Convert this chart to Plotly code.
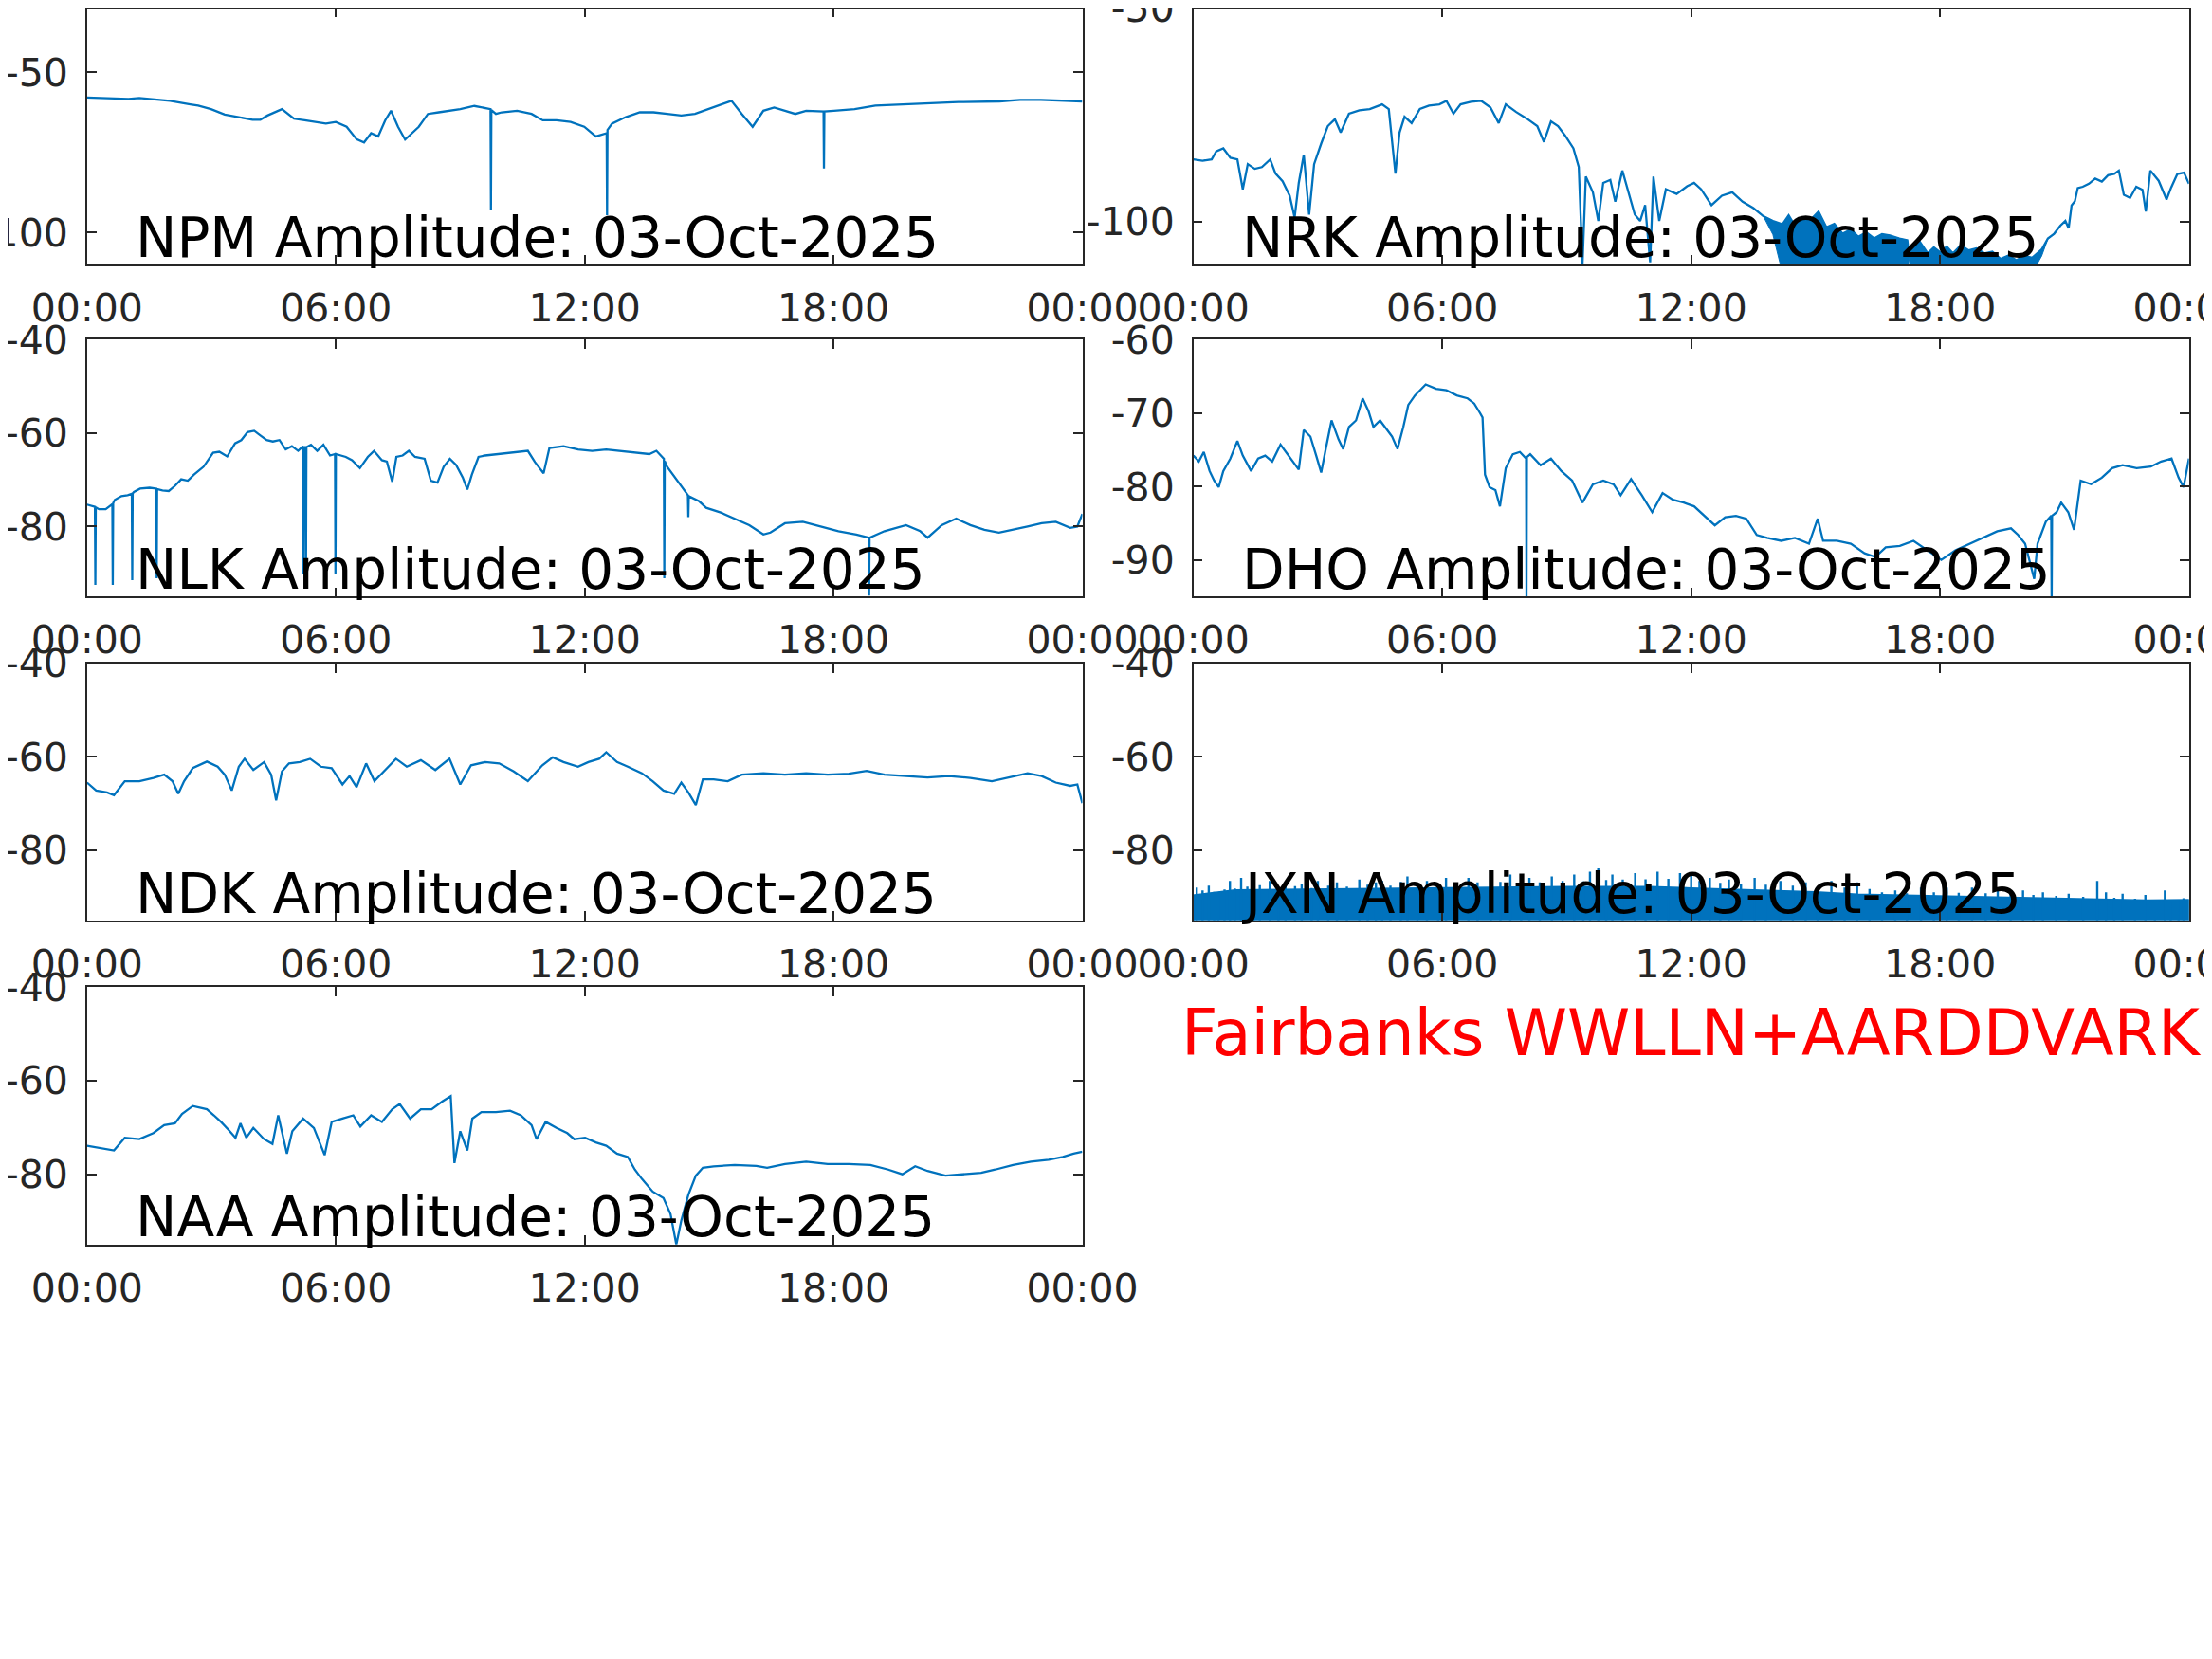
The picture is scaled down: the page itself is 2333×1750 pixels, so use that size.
import pandas as pd
import plotly.graph_objects as go

DAY = pd.Timestamp("2025-10-03")
BLUE = "#0072BD"
INK = "#262626"
FONT = "DejaVu Sans"

# ---- data: hours after 00:00 UT, amplitude in dB ----
npm_hours = [0.00, 0.48, 1.00, 1.26, 2.00, 2.49, 2.68, 2.99, 3.32, 3.66,
             3.99, 4.18, 4.35, 4.70, 4.99, 5.25, 5.51, 5.76, 6.00, 6.26,
             6.50, 6.68, 6.85, 7.02, 7.19, 7.33, 7.50, 7.67, 8.00, 8.22,
             8.48, 9.00, 9.34, 9.69, 9.73, 9.74, 9.75, 9.86, 10.00, 10.37,
             10.72, 10.99, 11.32, 11.66, 11.99, 12.27, 12.49, 12.53, 12.54, 12.55,
             12.66, 12.99, 13.33, 13.66, 13.99, 14.33, 14.66, 14.98, 15.28, 15.54,
             15.79, 16.05, 16.31, 16.57, 16.83, 17.08, 17.34, 17.76, 17.77, 17.78,
             18.01, 18.51, 19.01, 20.01, 21.01, 22.00, 22.50, 23.00, 23.50, 24.00]
npm_db = [-57.9, -58.1, -58.3, -58.0, -58.9, -60.0, -60.4, -61.5, -63.2, -64.0,
          -64.8, -64.8, -63.5, -61.5, -64.5, -65.0, -65.5, -66.0, -65.5, -67.0,
          -70.9, -71.9, -69.0, -70.0, -65.0, -62.0, -67.0, -71.0, -67.0, -63.0,
          -62.5, -61.5, -60.5, -61.5, -61.5, -92.9, -61.8, -63.0, -62.5, -62.0,
          -63.0, -65.0, -65.0, -65.5, -67.0, -70.0, -69.0, -69.0, -94.6, -68.0,
          -66.0, -64.0, -62.5, -62.5, -63.0, -63.5, -63.0, -61.5, -60.0, -58.9,
          -63.0, -67.0, -62.0, -61.0, -62.0, -63.0, -62.0, -62.2, -80.0, -62.2,
          -62.0, -61.5, -60.4, -59.9, -59.3, -59.1, -58.6, -58.6, -58.9, -59.1]

nrk_hours = [0.00, 0.22, 0.44, 0.55, 0.72, 0.89, 1.06, 1.19, 1.31, 1.48,
             1.65, 1.85, 1.98, 2.15, 2.32, 2.44, 2.54, 2.66, 2.79, 2.91,
             3.08, 3.24, 3.41, 3.55, 3.75, 4.00, 4.25, 4.55, 4.71, 4.79,
             4.87, 4.97, 5.09, 5.26, 5.46, 5.68, 5.93, 6.10, 6.27, 6.44,
             6.69, 6.94, 7.16, 7.36, 7.53, 7.78, 8.03, 8.29, 8.45, 8.62,
             8.79, 8.96, 9.16, 9.29, 9.38, 9.46, 9.63, 9.76, 9.88, 10.05,
             10.17, 10.34, 10.47, 10.64, 10.77, 10.89, 11.01, 11.09, 11.23, 11.39,
             11.65, 11.90, 12.07, 12.24, 12.49, 12.74, 12.99, 13.24, 13.50]
nrk_db = [-85.4, -85.7, -85.4, -83.5, -82.8, -85.0, -85.4, -92.4, -86.5, -87.6,
          -87.2, -85.4, -88.7, -90.5, -93.9, -99.0, -90.9, -84.3, -98.3, -86.5,
          -81.7, -77.6, -76.0, -79.1, -74.7, -73.9, -73.6, -72.5, -73.6, -80.6,
          -88.7, -79.1, -75.4, -76.9, -73.6, -72.8, -72.5, -71.7, -74.7, -72.5,
          -71.9, -71.7, -73.2, -76.9, -72.5, -74.3, -75.8, -77.6, -81.3, -76.5,
          -77.6, -79.8, -82.8, -87.2, -110.0, -89.4, -93.1, -99.8, -90.9, -90.2,
          -95.3, -88.0, -92.4, -98.3, -99.8, -96.1, -109.5, -89.4, -99.8, -92.4,
          -93.5, -91.7, -90.9, -92.4, -96.1, -93.9, -93.1, -95.3, -96.8]
# dense noise band of NRK in the afternoon: upper edge and lower edge
nrk_band_hours = [13.74, 13.97, 14.20, 14.35, 14.50, 14.70, 14.88, 15.07, 15.26, 15.45,
                  15.65, 15.85, 16.03, 16.22, 16.41, 16.60, 16.79, 17.02, 17.21, 17.26,
                  17.32, 17.50, 17.70, 17.85, 18.01, 18.16, 18.31, 18.50, 18.69, 18.88,
                  19.07, 19.26, 19.46, 19.65, 19.84, 20.03, 20.22, 20.45, 20.60, 20.75]
nrk_band_top = [-98.7, -99.8, -100.6, -98.5, -100.9, -99.0, -99.5, -97.6, -101.3, -100.5,
                -102.8, -101.8, -103.5, -102.5, -103.9, -102.9, -103.2, -103.9, -104.3, -108.4,
                -106.7, -104.5, -107.4, -106.0, -107.2, -105.8, -107.4, -105.5, -106.7, -106.2,
                -107.4, -107.0, -108.7, -107.9, -109.0, -108.0, -108.4, -106.5, -103.9, -102.8]
nrk_band_floor = [-98.7, -103.0, -112.0, -112.0, -112.0, -112.0, -112.0, -112.0, -112.0, -112.0,
                  -112.0, -112.0, -112.0, -112.0, -112.0, -112.0, -112.0, -112.0, -112.0, -108.4,
                  -112.0, -112.0, -112.0, -112.0, -112.0, -112.0, -112.0, -112.0, -112.0, -112.0,
                  -112.0, -112.0, -112.0, -112.0, -112.0, -112.0, -112.0, -108.0, -104.0, -102.8]
nrk_late_hours = [20.90, 21.02, 21.10, 21.17, 21.25, 21.32, 21.44, 21.59, 21.74, 21.90,
                  22.05, 22.20, 22.31, 22.43, 22.58, 22.73, 22.88, 22.96, 23.07, 23.27,
                  23.46, 23.57, 23.72, 23.88, 24.00]
nrk_late_db = [-100.9, -99.8, -101.5, -96.2, -95.2, -92.1, -91.8, -91.1, -89.9, -90.6,
               -89.1, -88.8, -88.0, -93.7, -94.4, -91.8, -92.5, -97.6, -88.0, -90.4,
               -94.8, -92.0, -88.8, -88.5, -91.1]

nlk_hours = [0.00, 0.14, 0.19, 0.20, 0.21, 0.29, 0.45, 0.60, 0.61, 0.62,
             0.63, 0.67, 0.83, 0.98, 1.08, 1.09, 1.10, 1.13, 1.28, 1.51,
             1.67, 1.68, 1.69, 1.82, 1.97, 2.12, 2.27, 2.43, 2.58, 2.81,
             2.96, 3.04, 3.19, 3.38, 3.57, 3.72, 3.87, 4.03, 4.18, 4.33,
             4.48, 4.64, 4.79, 4.94, 5.09, 5.21, 5.22, 5.23, 5.27, 5.28,
             5.29, 5.40, 5.55, 5.70, 5.86, 5.98, 5.99, 6.00, 6.24, 6.39,
             6.58, 6.77, 6.92, 7.11, 7.23, 7.36, 7.46, 7.61, 7.76, 7.91,
             8.14, 8.29, 8.45, 8.60, 8.75, 8.90, 9.06, 9.17, 9.28, 9.44,
             9.60, 9.94, 10.29, 10.63, 10.80, 11.01, 11.15, 11.49, 11.84, 12.18,
             12.52, 12.87, 13.21, 13.56, 13.73, 13.91, 13.92, 13.93, 13.99, 14.24,
             14.49, 14.50, 14.51, 14.76, 14.93, 15.28, 15.62, 15.97, 16.31, 16.48,
             16.83, 17.26, 17.69, 18.12, 18.55, 18.85, 18.86, 18.87, 19.23, 19.75,
             20.09, 20.27, 20.61, 20.96, 21.30, 21.64, 21.99, 22.33, 22.68, 23.02,
             23.36, 23.71, 23.88, 24.00]
nlk_db = [-75.3, -75.6, -75.8, -92.5, -75.9, -76.3, -76.3, -75.3, -75.2, -92.5,
          -75.0, -74.3, -73.5, -73.3, -73.0, -91.5, -72.9, -72.6, -71.9, -71.7,
          -71.9, -91.1, -72.0, -72.3, -72.4, -71.3, -69.9, -70.2, -68.9, -67.2,
          -65.2, -64.2, -64.0, -65.0, -62.2, -61.5, -59.8, -59.5, -60.5, -61.5,
          -61.8, -61.5, -63.5, -62.8, -63.8, -62.8, -90.1, -63.0, -63.0, -90.4,
          -63.0, -62.5, -63.8, -62.5, -64.8, -64.5, -90.1, -64.5, -65.1, -65.8,
          -67.5, -65.1, -63.8, -65.8, -66.1, -70.4, -65.1, -64.8, -63.8, -65.1,
          -65.5, -70.2, -70.6, -67.2, -65.5, -66.8, -69.5, -72.1, -68.9, -65.1,
          -64.8, -64.5, -64.2, -63.8, -66.2, -68.6, -63.2, -62.8, -63.5, -63.8,
          -63.5, -63.8, -64.2, -64.5, -63.8, -65.5, -91.1, -66.0, -67.2, -70.2,
          -73.3, -78.0, -73.5, -74.6, -76.0, -77.0, -78.3, -79.7, -81.7, -81.3,
          -79.3, -79.0, -80.0, -81.0, -81.7, -82.4, -94.8, -82.4, -81.0, -79.7,
          -81.0, -82.4, -79.7, -78.3, -79.7, -80.7, -81.3, -80.7, -80.0, -79.3,
          -79.0, -80.3, -80.0, -77.3]

dho_hours = [0.00, 0.13, 0.25, 0.39, 0.50, 0.61, 0.72, 0.89, 1.06, 1.19,
             1.39, 1.56, 1.73, 1.90, 2.10, 2.29, 2.40, 2.54, 2.66, 2.82,
             2.96, 3.08, 3.19, 3.33, 3.50, 3.61, 3.75, 3.92, 4.08, 4.22,
             4.34, 4.50, 4.67, 4.79, 4.92, 5.06, 5.18, 5.34, 5.60, 5.85,
             6.10, 6.35, 6.61, 6.77, 6.91, 6.97, 7.03, 7.14, 7.28, 7.39,
             7.53, 7.70, 7.87, 8.02, 8.03, 8.04, 8.12, 8.37, 8.62, 8.87,
             9.13, 9.38, 9.63, 9.88, 10.13, 10.30, 10.55, 10.81, 11.06, 11.31,
             11.56, 11.82, 12.07, 12.32, 12.57, 12.82, 13.08, 13.33, 13.58, 13.83,
             14.17, 14.50, 14.84, 15.05, 15.18, 15.51, 15.85, 16.18, 16.44, 16.69,
             17.03, 17.36, 17.70, 18.03, 18.37, 18.71, 19.04, 19.38, 19.71, 19.88,
             20.05, 20.22, 20.27, 20.35, 20.55, 20.68, 20.69, 20.70, 20.81, 20.92,
             21.09, 21.23, 21.39, 21.64, 21.90, 22.15, 22.40, 22.74, 23.08, 23.33,
             23.58, 23.75, 23.87, 24.00]
dho_db = [-75.8, -76.6, -75.3, -77.9, -79.2, -80.1, -77.9, -76.2, -73.8, -75.8,
          -77.9, -76.2, -75.8, -76.6, -74.3, -75.8, -76.6, -77.7, -72.3, -73.2,
          -75.8, -78.1, -74.9, -71.0, -73.6, -74.9, -71.9, -71.0, -68.0, -69.7,
          -71.9, -71.0, -72.3, -73.2, -74.9, -71.9, -68.9, -67.6, -66.1, -66.7,
          -66.9, -67.6, -68.0, -68.7, -70.0, -70.6, -78.4, -80.1, -80.5, -82.7,
          -77.5, -75.6, -75.3, -76.2, -95.5, -76.0, -75.6, -77.1, -76.2, -77.9,
          -79.2, -82.2, -79.7, -79.2, -79.7, -81.2, -79.0, -81.2, -83.5, -80.9,
          -81.8, -82.2, -82.7, -84.0, -85.3, -84.2, -84.0, -84.4, -86.6, -87.0,
          -87.4, -87.0, -87.8, -84.4, -87.4, -87.4, -87.8, -89.1, -89.6, -88.3,
          -88.1, -87.4, -88.7, -90.0, -88.7, -87.8, -87.0, -86.1, -85.7, -86.6,
          -87.8, -91.3, -92.6, -87.8, -84.8, -84.0, -95.5, -84.0, -83.5, -82.2,
          -83.5, -85.9, -79.2, -79.7, -78.8, -77.5, -77.1, -77.5, -77.3, -76.6,
          -76.2, -78.8, -80.1, -76.2]

ndk_hours = [0.00, 0.22, 0.48, 0.65, 0.91, 1.26, 1.60, 1.86, 2.06, 2.20,
             2.34, 2.55, 2.89, 3.15, 3.32, 3.49, 3.66, 3.80, 4.01, 4.27,
             4.44, 4.56, 4.70, 4.87, 5.13, 5.38, 5.64, 5.90, 6.16, 6.33,
             6.50, 6.73, 6.93, 7.19, 7.45, 7.71, 8.05, 8.40, 8.74, 9.00,
             9.26, 9.60, 9.94, 10.29, 10.63, 10.98, 11.23, 11.49, 11.84, 12.09,
             12.35, 12.52, 12.78, 13.04, 13.38, 13.64, 13.90, 14.16, 14.33, 14.50,
             14.68, 14.85, 15.11, 15.45, 15.79, 16.31, 16.83, 17.34, 17.86, 18.37,
             18.80, 19.23, 19.75, 20.27, 20.78, 21.30, 21.82, 22.16, 22.68, 23.02,
             23.36, 23.71, 23.88, 24.00]
ndk_db = [-65.5, -67.2, -67.6, -68.2, -65.2, -65.2, -64.5, -63.8, -65.2, -67.9,
          -65.2, -62.4, -61.0, -62.1, -63.8, -67.2, -62.1, -60.4, -62.8, -61.1,
          -63.8, -69.3, -63.1, -61.4, -61.1, -60.4, -62.1, -62.4, -65.9, -64.1,
          -66.5, -61.4, -65.2, -62.8, -60.4, -62.1, -60.7, -62.8, -60.4, -65.9,
          -61.8, -61.1, -61.4, -63.1, -65.2, -61.8, -60.1, -61.1, -62.1, -61.1,
          -60.4, -59.0, -61.1, -62.1, -63.5, -65.2, -67.2, -67.9, -65.5, -67.6,
          -70.3, -64.8, -64.8, -65.2, -63.8, -63.5, -63.8, -63.5, -63.8, -63.6,
          -63.0, -63.8, -64.1, -64.4, -64.1, -64.5, -65.2, -64.5, -63.5, -64.1,
          -65.5, -66.2, -65.9, -69.9]

# JXN is a dense noise band: solid level (hourly) plus the spike tops above it
jxn_base_hours = [0, 1, 2, 3, 4, 5, 6, 7, 8, 9, 10, 11, 12,
                  13, 14, 15, 16, 17, 18, 19, 20, 21, 22, 23, 24]
jxn_base_db = [-89.6, -88.5, -88.4, -88.3, -88.2, -88.1, -88.0, -87.9, -87.9, -87.8,
               -87.8, -87.8, -88.1, -88.4, -88.6, -88.9, -89.4, -89.6, -89.8, -89.9,
               -90.1, -90.3, -90.5, -90.7, -90.6]
jxn_spike_hours = [0.08, 0.22, 0.37, 0.50, 0.60, 0.75, 0.88, 1.00, 1.15, 1.30,
                   1.45, 1.60, 1.84, 2.05, 2.22, 2.45, 2.61, 2.85, 3.00, 3.25,
                   3.46, 3.70, 4.00, 4.20, 4.40, 4.55, 4.75, 5.00, 5.16, 5.40,
                   5.63, 5.90, 6.09, 6.35, 6.63, 6.85, 7.17, 7.40, 7.64, 7.90,
                   8.10, 8.35, 8.64, 8.90, 9.18, 9.40, 9.56, 9.76, 9.95, 10.10,
                   10.35, 10.65, 10.90, 11.19, 11.45, 11.73, 12.00, 12.20, 12.45, 12.70,
                   12.91, 13.20, 13.53, 13.80, 14.15, 14.45, 14.76, 15.05, 15.38, 15.70,
                   16.00, 16.30, 16.60, 16.92, 17.20, 17.54, 17.85, 18.16, 18.45, 18.77,
                   19.10, 19.39, 19.70, 20.00, 20.25, 20.48, 20.80, 21.10, 21.45, 21.79,
                   22.00, 22.20, 22.40, 22.70, 22.95, 23.18, 23.42, 23.56, 23.75, 23.87]
jxn_spike_db = [-88.0, -88.6, -87.6, -88.9, -89.3, -88.4, -86.6, -88.2, -85.9, -87.8,
                -86.9, -87.5, -86.6, -88.0, -86.9, -87.7, -87.3, -88.1, -86.6, -87.6,
                -86.9, -87.8, -86.3, -87.4, -86.9, -86.6, -87.6, -86.8, -85.6, -87.2,
                -86.6, -87.4, -85.9, -87.0, -85.9, -86.9, -85.9, -86.8, -85.2, -86.5,
                -85.9, -86.9, -85.6, -86.6, -85.2, -86.7, -84.6, -83.9, -86.4, -85.2,
                -86.3, -84.9, -86.2, -84.6, -86.1, -84.9, -84.9, -86.6, -85.9, -87.0,
                -86.3, -87.2, -85.9, -87.4, -86.6, -87.6, -86.9, -87.8, -86.6, -88.0,
                -86.9, -88.3, -89.0, -88.6, -89.2, -88.0, -89.0, -88.0, -89.1, -88.0,
                -89.2, -88.0, -89.4, -88.6, -89.6, -89.0, -89.8, -89.3, -90.0, -86.6,
                -89.0, -90.2, -89.3, -90.4, -89.6, -90.8, -88.6, -91.0, -90.6, -90.3]

naa_hours = [0.00, 0.31, 0.65, 0.91, 1.26, 1.60, 1.86, 2.12, 2.29, 2.55,
             2.89, 3.06, 3.23, 3.41, 3.58, 3.70, 3.84, 4.01, 4.27, 4.47,
             4.61, 4.82, 4.95, 5.21, 5.47, 5.73, 5.90, 6.16, 6.42, 6.59,
             6.85, 7.11, 7.36, 7.54, 7.79, 8.05, 8.31, 8.57, 8.77, 8.86,
             9.00, 9.17, 9.29, 9.51, 9.86, 10.20, 10.46, 10.72, 10.84, 11.06,
             11.32, 11.58, 11.75, 12.01, 12.27, 12.52, 12.78, 13.04, 13.21, 13.38,
             13.64, 13.90, 14.07, 14.21, 14.33, 14.50, 14.68, 14.85, 15.11, 15.62,
             16.14, 16.40, 16.83, 17.34, 17.86, 18.37, 18.89, 19.32, 19.66, 19.97,
             20.27, 20.70, 21.13, 21.56, 21.90, 22.33, 22.76, 23.19, 23.53, 23.79,
             24.00]
naa_db = [-73.9, -74.4, -74.9, -72.2, -72.5, -71.2, -69.5, -69.1, -67.1, -65.4,
          -66.1, -67.4, -68.8, -70.5, -72.2, -69.1, -72.2, -70.1, -72.5, -73.5,
          -67.4, -75.6, -70.8, -68.1, -70.1, -75.9, -68.8, -68.1, -67.4, -69.8,
          -67.4, -68.8, -66.1, -65.0, -68.1, -66.1, -66.1, -64.4, -63.3, -77.6,
          -70.8, -74.9, -68.1, -66.7, -66.7, -66.4, -67.4, -69.5, -72.5, -68.8,
          -70.1, -71.2, -72.5, -72.2, -73.2, -73.9, -75.6, -76.3, -79.0, -81.0,
          -83.7, -85.1, -88.5, -95.0, -89.9, -84.4, -80.3, -78.6, -78.3, -78.0,
          -78.2, -78.6, -77.8, -77.3, -77.8, -77.8, -78.0, -79.0, -80.0, -78.3,
          -79.3, -80.3, -80.0, -79.7, -79.0, -78.0, -77.3, -76.9, -76.3, -75.6,
          -75.2]

for a, b in [(npm_hours, npm_db), (nrk_hours, nrk_db), (nlk_hours, nlk_db),
             (dho_hours, dho_db), (ndk_hours, ndk_db), (naa_hours, naa_db),
             (jxn_base_hours, jxn_base_db), (jxn_spike_hours, jxn_spike_db),
             (nrk_late_hours, nrk_late_db),
             (nrk_band_hours, nrk_band_top), (nrk_band_hours, nrk_band_floor)]:
    assert len(a) == len(b), (len(a), len(b))

tick_hours = [0, 6, 12, 18, 24]
tick_text = ["00:00", "06:00", "12:00", "18:00", "00:00"]
date_label = "03-Oct-2025"
site_label = "Fairbanks WWLLN+AARDDVARK"


def to_time(hours):
    return DAY + pd.to_timedelta(hours, unit="h")


def ax_id(i):
    # plotly wants "x", "x2", "x3" ... (no "x1")
    return "" if i == 1 else str(i)


# panel layout in paper coordinates (page body has an 8px margin)
col_x = [[0.03592, 0.48586], [0.53609, 0.98615]]
row_y = [[0.84514, 0.99960], [0.64497, 0.79983], [0.44989, 0.60457], [0.25446, 0.40954]]

panels = [
    # name, column, row, y range, y ticks
    ("NPM", 0, 0, [-110, -30], [-100, -50]),
    ("NRK", 1, 0, [-110, -50], [-100, -50]),
    ("NLK", 0, 1, [-95, -40], [-80, -60, -40]),
    ("DHO", 1, 1, [-95, -60], [-90, -80, -70, -60]),
    ("NDK", 0, 2, [-95, -40], [-80, -60, -40]),
    ("JXN", 1, 2, [-95, -40], [-80, -60, -40]),
    ("NAA", 0, 3, [-95, -40], [-80, -60, -40]),
]

fig = go.Figure()
line = dict(color=BLUE, width=2.3)


def add_line(i, hours, db, **kw):
    fig.add_trace(go.Scatter(x=to_time(hours), y=db, mode="lines",
                             xaxis="x" + ax_id(i), yaxis="y" + ax_id(i), **kw))


add_line(1, npm_hours, npm_db, line=line)
# NRK: dense band first, then the line running along its top
band_x = list(nrk_band_hours) + list(reversed(nrk_band_hours))
band_y = list(nrk_band_top) + list(reversed(nrk_band_floor))
add_line(2, band_x, band_y, fill="toself", fillcolor=BLUE, line=dict(color=BLUE, width=1))
add_line(2, nrk_hours + nrk_band_hours + nrk_late_hours,
         nrk_db + nrk_band_top + nrk_late_db, line=line)
add_line(3, nlk_hours, nlk_db, line=line)
add_line(4, dho_hours, dho_db, line=line)
add_line(5, ndk_hours, ndk_db, line=line)
# JXN: solid band from the axis floor, then spikes as vertical strokes
jxn_x = [jxn_base_hours[0]] + jxn_base_hours + [jxn_base_hours[-1]]
jxn_y = [-100] + jxn_base_db + [-100]
add_line(6, jxn_x, jxn_y, fill="toself", fillcolor=BLUE, line=dict(color=BLUE, width=1.5))
spike_x, spike_y = [], []
for h, v in zip(jxn_spike_hours, jxn_spike_db):
    spike_x += [to_time(h), to_time(h), None]
    spike_y += [-95, v, None]
fig.add_trace(go.Scatter(x=spike_x, y=spike_y, mode="lines", line=dict(color=BLUE, width=2.4),
                         xaxis="x6", yaxis="y6"))
add_line(7, naa_hours, naa_db, line=line)

axis_common = dict(showline=True, linecolor=INK, linewidth=1.5, mirror="ticks",
                   ticks="inside", ticklen=10, tickwidth=1.5, tickcolor=INK,
                   showgrid=False, zeroline=False, automargin=False,
                   ticklabeloverflow="allow",
                   tickfont=dict(family=FONT, size=41, color=INK))

layout = dict(width=2333, height=1750, margin=dict(l=0, r=0, t=0, b=0, autoexpand=False),
              paper_bgcolor="white", plot_bgcolor="white", showlegend=False,
              font=dict(family=FONT, color=INK))
annotations = []
for i, (name, col, row, yr, yt) in enumerate(panels, start=1):
    s = ax_id(i)
    layout["xaxis" + s] = dict(axis_common, domain=col_x[col], anchor="y" + s,
                               type="date", range=[to_time(0), to_time(24)],
                               tickvals=to_time(tick_hours), ticktext=tick_text,
                               ticklabelstandoff=9)
    layout["yaxis" + s] = dict(axis_common, domain=row_y[row], anchor="x" + s,
                               range=yr, tickvals=yt, ticktext=[str(v) for v in yt],
                               ticklabelstandoff=10)
    annotations.append(dict(text=f"{name} Amplitude: {date_label}", showarrow=False,
                            xref=f"x{s} domain", yref=f"y{s} domain",
                            x=0.047, y=0.104, xanchor="left", yanchor="middle",
                            font=dict(family=FONT, size=58, color="black")))

annotations.append(dict(text=site_label, showarrow=False, xref="paper", yref="paper",
                        x=0.5296, y=0.38171, xanchor="left", yanchor="middle",
                        font=dict(family=FONT, size=67, color="red")))
layout["annotations"] = annotations

fig.update_layout(**layout)
fig.write_html("out.html")
